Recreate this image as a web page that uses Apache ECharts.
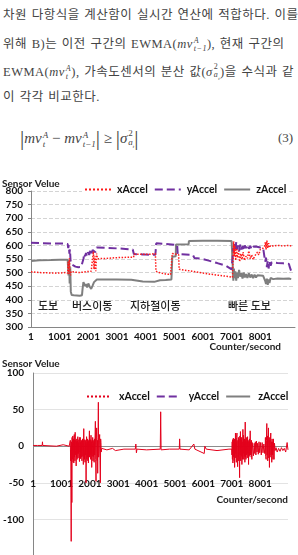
<!DOCTYPE html>
<html lang="ko">
<head>
<meta charset="UTF-8">
<title>Sensor Velue</title>
<script src="https://cdn.jsdelivr.net/npm/echarts@6/dist/echarts.min.js"></script>
<style>
    *{ padding:0; margin:0; box-sizing:border-box; }
    body{
        width:298px; height:555px; overflow:hidden;
        background:#fff; position:relative;
    }
    .txt{
        position:absolute; left:3px; white-space:nowrap;
        font-family:"Liberation Serif","Noto Sans CJK KR",serif;
        font-size:12.5px; line-height:18px; color:#444; font-weight:normal;
        letter-spacing:0.5px; word-spacing:1px;
    }
    .txt i, .eq i{ font-family:"Liberation Serif",serif; }
    .ss{
        display:inline-flex; flex-direction:column; vertical-align:middle;
        font-size:8px; line-height:8px; font-style:italic;
        font-family:"Liberation Serif",serif; margin-left:1px;
    }
    .eq{
        position:absolute; left:20px; top:126px; white-space:nowrap;
        font-family:"Liberation Serif",serif; font-size:15px; line-height:24px; color:#444;
    }
    .eq .ss{ font-size:9px; line-height:9px; }
    .bar{ font-size:21px; font-style:normal; vertical-align:-2px; }
    .eqno{
        position:absolute; left:278px; top:126px;
        font-family:"Liberation Serif",serif; font-size:13px; line-height:24px; color:#444;
    }
    #c1{ position:absolute; left:0; top:176px; width:298px; height:180px; }
    #c2{ position:absolute; left:0; top:355px; width:298px; height:250px; }
</style>
</head>
<body>
    <div class="txt" style="top:6px">차원 다항식을 계산함이 실시간 연산에 적합하다. 이를</div>
    <div class="txt" style="top:35px">위해 B)는 이전 구간의 EWMA(<i>mv</i><span class="ss"><span>A</span><span>t−1</span></span>), 현재 구간의</div>
    <div class="txt" style="top:63px">EWMA(<i>mv</i><span class="ss"><span>A</span><span>t</span></span>), 가속도센서의 분산 값(<i>σ</i><span class="ss"><span style="font-style:normal">2</span><span>a<sub style="font-size:5px">t</sub></span></span>)을 수식과 같</div>
    <div class="txt" style="top:88px">이 각각 비교한다.</div>

    <div class="eq"><span class="bar">|</span><i>mv</i><span class="ss"><span>A</span><span>t</span></span> − <i>mv</i><span class="ss"><span>A</span><span>t−1</span></span><span class="bar">|</span> ≥ <span class="bar">|</span><i>σ</i><span class="ss"><span style="font-style:normal">2</span><span>a<sub style="font-size:5px">t</sub></span></span><span class="bar">|</span></div>
    <div class="eqno">(3)</div>

    <div id="c1"></div>
    <div id="c2"></div>

    <script>
        // 1번 그래프 (이동수단별 가속도)
        var xCounter=[1,300,600,900,1200,1280,1300,1320,1340,1360,1380,1400,1500,1700,1900,2100,2150,2180,2200,2230,2260,2290,2320,2600,3000,3300,3580,3600,3900,4200,4340,4360,4470,4700,4870,4930,5150,5170,5621,6198,6775,7029,7060,7070,7090,7110,7140,7170,7200,7240,7280,7320,7360,7400,7450,7500,7550,7600,7650,7700,7750,7800,7850,7900,7950,8000,8050,8100,8150,8180,8200,8230,8260,8290,8320,8360,8450,8600,8800,9000,9080]
        var xAccel=[503,500,499,498,500,498,540,495,553,500,490,505,502,500,503,505,505,578,512,560,505,570,551,552,555,556,557,568,567,568,570,505,500,495,493,570,566,512,505,495,487,483,480,615,560,600,545,590,555,580,540,570,548,575,545,560,552,580,550,565,548,560,555,575,565,585,578,590,598,612,585,618,590,608,592,600,598,600,598,600,598]

        var yCounter=[1,400,800,1200,1280,1300,1320,1340,1360,1380,1420,1450,1550,1650,1750,1800,1830,1860,1890,1920,1950,1990,2030,2070,2110,2150,2200,2250,2290,2320,2600,3000,3300,3550,3590,3900,4200,4340,4370,4700,5100,5120,5650,5700,6000,6200,6500,6800,7000,7050,7060,7080,7100,7130,7160,7190,7220,7260,7300,7340,7380,7420,7460,7500,7550,7600,7650,7700,7750,7800,7850,7900,8000,8100,8150,8170,8200,8230,8260,8290,8320,8360,8400,8450,8600,8800,9000,9030,9080]
        var yAccel=[610,608,607,607,605,590,600,570,585,545,530,523,522,520,521,525,550,570,560,572,560,575,565,580,568,583,588,575,592,592,591,589,587,585,568,567,565,566,608,605,602,568,565,554,550,544,535,525,512,508,590,575,605,580,612,585,600,578,603,585,598,580,600,590,603,588,598,585,595,588,596,590,592,590,588,540,555,520,545,515,540,525,538,533,535,534,532,520,505]

        var zCounter=[1,300,700,1000,1280,1290,1310,1330,1350,1370,1390,1420,1500,1600,1700,1780,1800,1830,1860,1890,1920,1960,2000,2050,2100,2150,2200,2260,2300,2320,2700,3000,3500,3550,3900,4300,4350,4500,4700,4900,4920,4930,5050,5060,5500,5510,6000,6500,7000,7050,7060,7080,7100,7130,7160,7190,7220,7260,7300,7340,7380,7420,7460,7500,7550,7600,7650,7700,7750,7800,7850,7900,7950,8000,8050,8100,8150,8170,8200,8230,8260,8290,8320,8360,8450,8600,8800,9000,9080]
        var zAccel=[543,545,546,547,547,540,490,545,460,520,430,418,417,416,415,417,440,465,462,450,458,445,460,448,440,452,465,462,475,476,475,475,474,468,467,466,470,472,473,475,478,558,560,603,604,616,617,617,616,616,470,515,480,505,470,500,480,510,485,498,478,500,482,495,480,497,482,493,480,492,482,490,483,489,484,488,486,470,458,478,455,475,462,480,476,478,477,478,476]

        var yTicks1={min:300,max:800,step:50}
        var places=["도보","버스이동","지하철이동","빠른 도보"]

        // 2번 그래프 (xAccel 변화량)
        var dCounter=[1,150,320,330,340,820,1060,1270,
            1300,1312,1322,1330,1342,1350,1358,1366,1374,1382,1390,1400,1408,1418,1426,1435,1443,1450,1458,1466,1474,1482,1490,1500,1508,1517,1526,1533,1540,1550,1558,1566,1575,1584,1592,1600,1610,1620,1634,1644,1652,1660,1670,1680,1690,1700,1710,1720,1730,1740,1750,1760,1770,1785,1795,1810,1820,1830,1840,1850,1858,1867,1876,1885,1895,1903,1910,1920,1930,1940,1949,1958,1966,1975,1984,1993,2002,2010,2020,2030,2040,2050,2058,2065,2074,2082,2090,2100,2110,2120,2130,2140,2150,2160,2170,2180,2194,2205,2217,2228,2240,2250,2260,2268,2276,2288,2299,2310,2320,2332,2345,2356,2369,2380,2390,2400,2416,
            2600,2800,2900,3200,3600,3620,3640,3660,4000,4480,4495,4510,4800,5150,5163,5176,5500,5663,5700,6030,6050,6100,6480,6500,6900,
            7000,7007,7015,7022,7030,7040,7048,7056,7066,7075,7084,7092,7100,7110,7120,7130,7140,7150,7160,7170,7182,7192,7206,7215,7225,7235,7245,7256,7266,7276,7285,7295,7305,7315,7325,7336,7346,7357,7366,7375,7392,7402,7412,7422,7432,7442,7452,7462,7474,7482,7492,7500,7512,7524,7536,7546,7556,7566,7580,7591,7602,7612,7622,7635,7649,7660,7672,7684,7696,7708,7720,7743,7765,7790,7810,7830,7850,7870,7890,7910,7935,7960,7985,8010,8040,8070,8100,8130,8160,
            8175,8185,8195,8210,8222,8234,8245,8256,8266,8280,8292,8305,8316,8327,8338,8350,8362,8374,8385,8397,8409,8420,8432,8440,8452,8467,8478,8490,8505,8525,8560,8600,8650,8700,8750,8800,8850,8900,8950,8980]
        var dAccel=[1,1,1,6,1,0,2,0,
            0,8,-20,-5,-130,6,-12,-77,12,-18,5,14,-22,-8,10,-23,4,16,-15,9,-20,19,-6,-12,8,-27,6,-15,10,-18,7,-10,13,-16,5,-10,9,-14,-21,12,-8,12,-17,6,-12,-15,8,-20,4,10,-14,7,-25,24,-10,-18,9,-22,8,-12,5,-50,6,13,-18,3,-15,10,-20,6,-23,8,-12,5,21,-15,4,-12,9,-18,15,-10,6,-29,8,-14,4,12,-20,8,-14,5,-22,10,-12,6,34,-18,-48,10,25,-15,-20,8,-37,12,60,-15,-10,8,16,-20,-50,10,5,-8,-3,
            -5,-3,-6,-4,-4,3,-9,-4,-5,-4,47,-5,-4,-4,10,-4,-5,3,-4,-10,0,-4,-6,-4,-4,
            -4,-12,6,-18,9,-23,4,11,-15,8,-20,10,-29,5,-10,18,-16,6,-22,12,18,-12,-28,8,-15,12,-20,10,-18,-43,14,-12,20,-20,8,-14,12,-25,6,-18,23,-10,15,-18,5,-14,10,-22,33,-15,8,-18,12,-12,6,-16,13,-10,8,-25,6,-14,10,-12,21,-12,6,-15,8,-18,5,7,-13,4,-10,6,-12,7,-8,4,-11,6,-9,5,-12,5,-9,3,-10,
            -6,12,-14,-18,8,31,-12,14,-20,10,25,-16,8,-29,12,-15,9,18,-12,6,-22,10,-12,6,-18,10,-8,-18,4,-6,-2,-8,-3,-7,-2,-6,-3,-8,5,-5]

        var names=["xAccel","yAccel","zAccel"]
        var colors=["#ff1a1a","#7030a0","#7f7f7f"]

        function pairs(cs,vs){
            return cs.map(function(c,i){return [c-1,vs[i]]})
        }
        var font="Lato"
        var lab={fontFamily:font,fontWeight:"bold",fontSize:10,color:"#111"}

        var chart1=echarts.init(document.getElementById("c1"))
        chart1.setOption({
            animation:false,
            title:{text:"Sensor Velue",left:2,top:3,padding:0,
                textStyle:{fontFamily:font,fontWeight:"bold",fontSize:10,color:"#222"}},
            legend:{
                left:82,top:8,padding:[0,2],itemWidth:26,itemHeight:10,itemGap:6,
                backgroundColor:"#fff",
                itemStyle:{opacity:0},
                textStyle:{fontFamily:font,fontWeight:"bold",fontSize:10.5,color:"#111",padding:[0,0,0,1]},
                data:names
            },
            grid:{left:31,right:1,top:15,bottom:29},
            xAxis:{
                type:"value",min:0,max:9210,interval:1000,
                axisLine:{lineStyle:{color:"#868686"}},
                axisTick:{show:false},
                splitLine:{show:false},
                axisLabel:Object.assign({margin:5,formatter:function(v){return v>=9000?"":String(v+1)}},lab)
            },
            yAxis:{
                type:"value",min:yTicks1.min,max:yTicks1.max,interval:yTicks1.step,
                axisLine:{show:true,lineStyle:{color:"#868686"}},
                axisTick:{show:true,length:3,lineStyle:{color:"#868686"}},
                splitLine:{lineStyle:{color:"#d4d4d4",type:"dashed"}},
                axisLabel:Object.assign({margin:8},lab)
            },
            graphic:[
                {type:"text",left:38,top:124,style:{text:places[0],font:"500 11px 'Noto Sans CJK KR'",fill:"#222"}},
                {type:"text",left:72,top:124,style:{text:places[1],font:"500 11px 'Noto Sans CJK KR'",fill:"#222"}},
                {type:"text",left:130,top:124,style:{text:places[2],font:"500 11px 'Noto Sans CJK KR'",fill:"#222"}},
                {type:"text",left:228,top:124,style:{text:places[3],font:"500 11px 'Noto Sans CJK KR'",fill:"#222"}},
                {type:"text",right:17,top:166,style:{text:"Counter/second",font:"bold 10px Lato",fill:"#222"}}
            ],
            series:[
                {name:names[0],type:"line",symbol:"none",data:pairs(xCounter,xAccel),z:4,
                    lineStyle:{color:colors[0],width:1.5,type:"dotted"},itemStyle:{color:colors[0]}},
                {name:names[1],type:"line",symbol:"none",data:pairs(yCounter,yAccel),z:3,
                    lineStyle:{color:colors[1],width:2,type:"dashed"},itemStyle:{color:colors[1]}},
                {name:names[2],type:"line",symbol:"none",data:pairs(zCounter,zAccel),z:2,
                    lineStyle:{color:colors[2],width:2},itemStyle:{color:colors[2]}}
            ]
        })

        var chart2=echarts.init(document.getElementById("c2"))
        chart2.setOption({
            animation:false,
            title:{text:"Sensor Velue",left:2,top:4,padding:0,
                textStyle:{fontFamily:font,fontWeight:"bold",fontSize:10,color:"#222"}},
            legend:{
                left:86,top:36,padding:0,itemWidth:24,itemHeight:10,itemGap:6,
                itemStyle:{opacity:0},
                textStyle:{fontFamily:font,fontWeight:"bold",fontSize:10.5,color:"#111",padding:[0,0,0,3]},
                data:[
                    {name:names[0],lineStyle:{type:"dotted",width:2,color:"#e3001b"}},
                    {name:names[1]},
                    {name:names[2]}
                ]
            },
            grid:{left:31,right:10,top:18,bottom:49},
            xAxis:{
                type:"value",min:0,max:8980,interval:1000,offset:-79,
                axisLine:{show:false},
                axisTick:{show:false},
                splitLine:{show:false},
                axisLabel:Object.assign({margin:2,showMaxLabel:false,formatter:function(v){return v>=8500?"":String(v+1)}},lab)
            },
            yAxis:{
                type:"value",min:-150,max:100,interval:50,
                axisLine:{show:true,lineStyle:{color:"#868686"}},
                axisTick:{show:false},
                splitLine:{lineStyle:{color:["#e3e3e3","#e3e3e3","#e3e3e3","#8c8c8c","#e3e3e3","#e3e3e3"]}},
                axisLabel:Object.assign({margin:9,formatter:function(v){return v===-150?"":String(v)}},lab)
            },
            graphic:[
                {type:"text",right:10,top:140,style:{text:"Counter/second",font:"bold 10px Lato",fill:"#222"}}
            ],
            series:[
                {name:names[0],type:"line",symbol:"none",data:pairs(dCounter,dAccel),z:4,
                    lineStyle:{color:"#e3001b",width:1},itemStyle:{color:"#e3001b"}},
                {name:names[1],type:"line",symbol:"none",data:[],
                    lineStyle:{color:colors[1],width:2,type:"dashed"},itemStyle:{color:colors[1]}},
                {name:names[2],type:"line",symbol:"none",data:[],
                    lineStyle:{color:colors[2],width:2},itemStyle:{color:colors[2]}}
            ]
        })
    </script>
</body>
</html>
